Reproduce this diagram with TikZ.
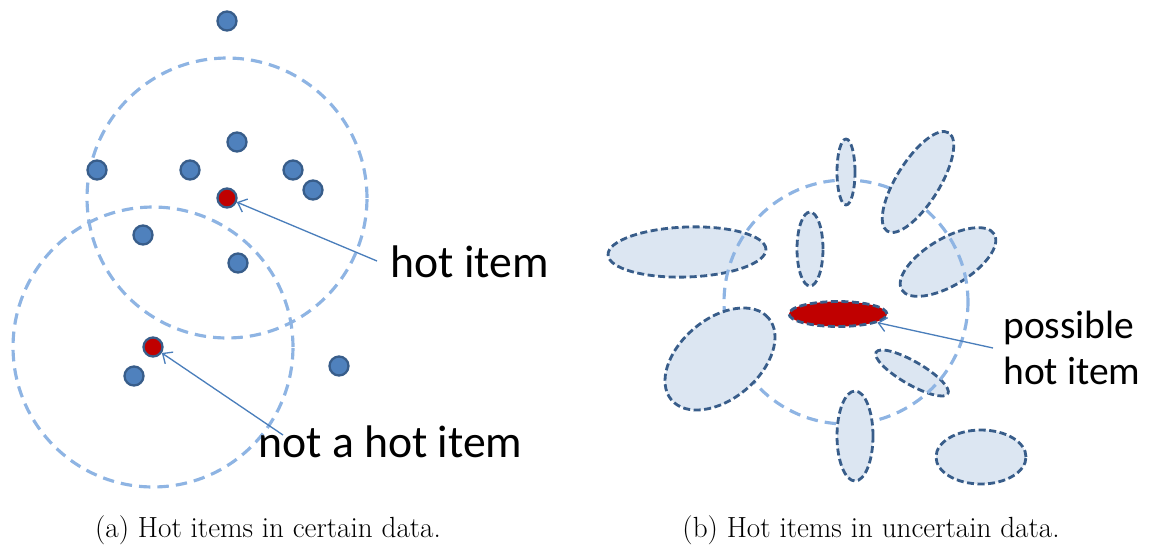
\documentclass[tikz,border=0pt]{standalone}
\usepackage{fontspec}
\newfontfamily\labelfont{Carlito}
\usepackage{xcolor}
\usetikzlibrary{arrows.meta,shapes.geometric}

\definecolor{itemblue}{HTML}{4F81BD}
\definecolor{itemedge}{HTML}{385D8A}
\definecolor{hotred}{HTML}{C00000}
\definecolor{rangeblue}{HTML}{8EB4E3}
\definecolor{ufill}{HTML}{DCE6F2}
\definecolor{arrowblue}{HTML}{4A7EBB}

\begin{document}
\begin{tikzpicture}[
  x=0.02cm, y=-0.02cm,
  item/.style={circle, draw=itemedge, fill=itemblue, line width=1.3pt,
    minimum size=0.38cm, inner sep=0pt},
  hotitem/.style={item, fill=hotred},
  rangering/.style={draw=rangeblue, line width=1.8pt, dash pattern=on 6.5pt off 4pt},
  uitem/.style={ellipse, draw=itemedge, fill=ufill, line width=1.6pt,
    dash pattern=on 4pt off 2pt, inner sep=0pt},
  pointer/.style={draw=arrowblue, line width=0.75pt,
    -{Straight Barb[length=4.5pt,width=8pt]}},
  lbl/.style={font=\labelfont\fontsize{26}{30}\selectfont, inner sep=0pt},
  smalllbl/.style={font=\labelfont\fontsize{22.5}{26}\selectfont, inner sep=0pt},
  caption/.style={font=\fontsize{16.6}{20}\selectfont, inner sep=0pt}
]
\useasboundingbox (0,0) rectangle (1149,548);

% (a) certain data
\coordinate (hotc) at (227,198);
\coordinate (nothotc) at (153,347);
\draw[rangering] (hotc) circle[radius=2.8cm];
\draw[rangering] (nothotc) circle[radius=2.8cm];

\node[item] (p1) at (227,21) {};
\node[item] (p2) at (237,142) {};
\node[item] (p3) at (97,170) {};
\node[item] (p4) at (190,170) {};
\node[item] (p5) at (293,170) {};
\node[item] (p6) at (313,190) {};
\node[item] (p7) at (143,235) {};
\node[item] (p8) at (238,263) {};
\node[item] (p9) at (134,376) {};
\node[item] (p10) at (339,366) {};
\node[hotitem] (hot) at (hotc) {};
\node[hotitem] (nothot) at (nothotc) {};

\node[lbl, anchor=base west] (hotlbl) at (390,277) {hot item};
\node[lbl, anchor=base west] (nothotlbl) at (258,457) {not a hot item};
\coordinate (hotfrom) at (377,261);
\coordinate (nothotfrom) at (283,435);
\draw[pointer] (hotfrom) -- (hot);
\draw[pointer] (nothotfrom) -- (nothot);

% (b) uncertain data
\node[uitem, minimum width=3.16cm, minimum height=1.0cm, rotate=2] (u3) at (687,252) {};
\node[uitem, minimum width=2.16cm, minimum height=0.94cm, rotate=31] (u5) at (948,262) {};
\node[uitem, minimum width=1.66cm, minimum height=0.46cm, rotate=-30] (u8) at (912,373) {};
\draw[rangering] (846,302) circle[radius=2.44cm];
\node[uitem, minimum width=0.36cm, minimum height=1.32cm] (u1) at (846,172) {};
\node[uitem, minimum width=2.32cm, minimum height=0.86cm, rotate=58] (u2) at (918,182) {};
\node[uitem, minimum width=0.52cm, minimum height=1.48cm] (u4) at (810,249) {};
\node[uitem, minimum width=2.54cm, minimum height=1.6cm, rotate=40] (u7) at (720,359) {};
\node[uitem, minimum width=0.72cm, minimum height=1.8cm] (u9) at (855,436) {};
\node[uitem, minimum width=1.8cm, minimum height=1.08cm] (u10) at (981,457) {};
\node[uitem, fill=hotred, minimum width=1.96cm, minimum height=0.5cm] (hotu) at (838,314) {};

\node[smalllbl, anchor=base west] (posslbl) at (1003,338) {possible};
\node[smalllbl, anchor=base west] (posslbl2) at (1003,384) {hot item};
\coordinate (possfrom) at (993,348);
\draw[pointer] (possfrom) -- (hotu);

% captions
\node[caption, anchor=base] (capa) at (268,537) {(a) Hot items in certain data.};
\node[caption, anchor=base] (capb) at (871,537) {(b) Hot items in uncertain data.};
\end{tikzpicture}
\end{document}
